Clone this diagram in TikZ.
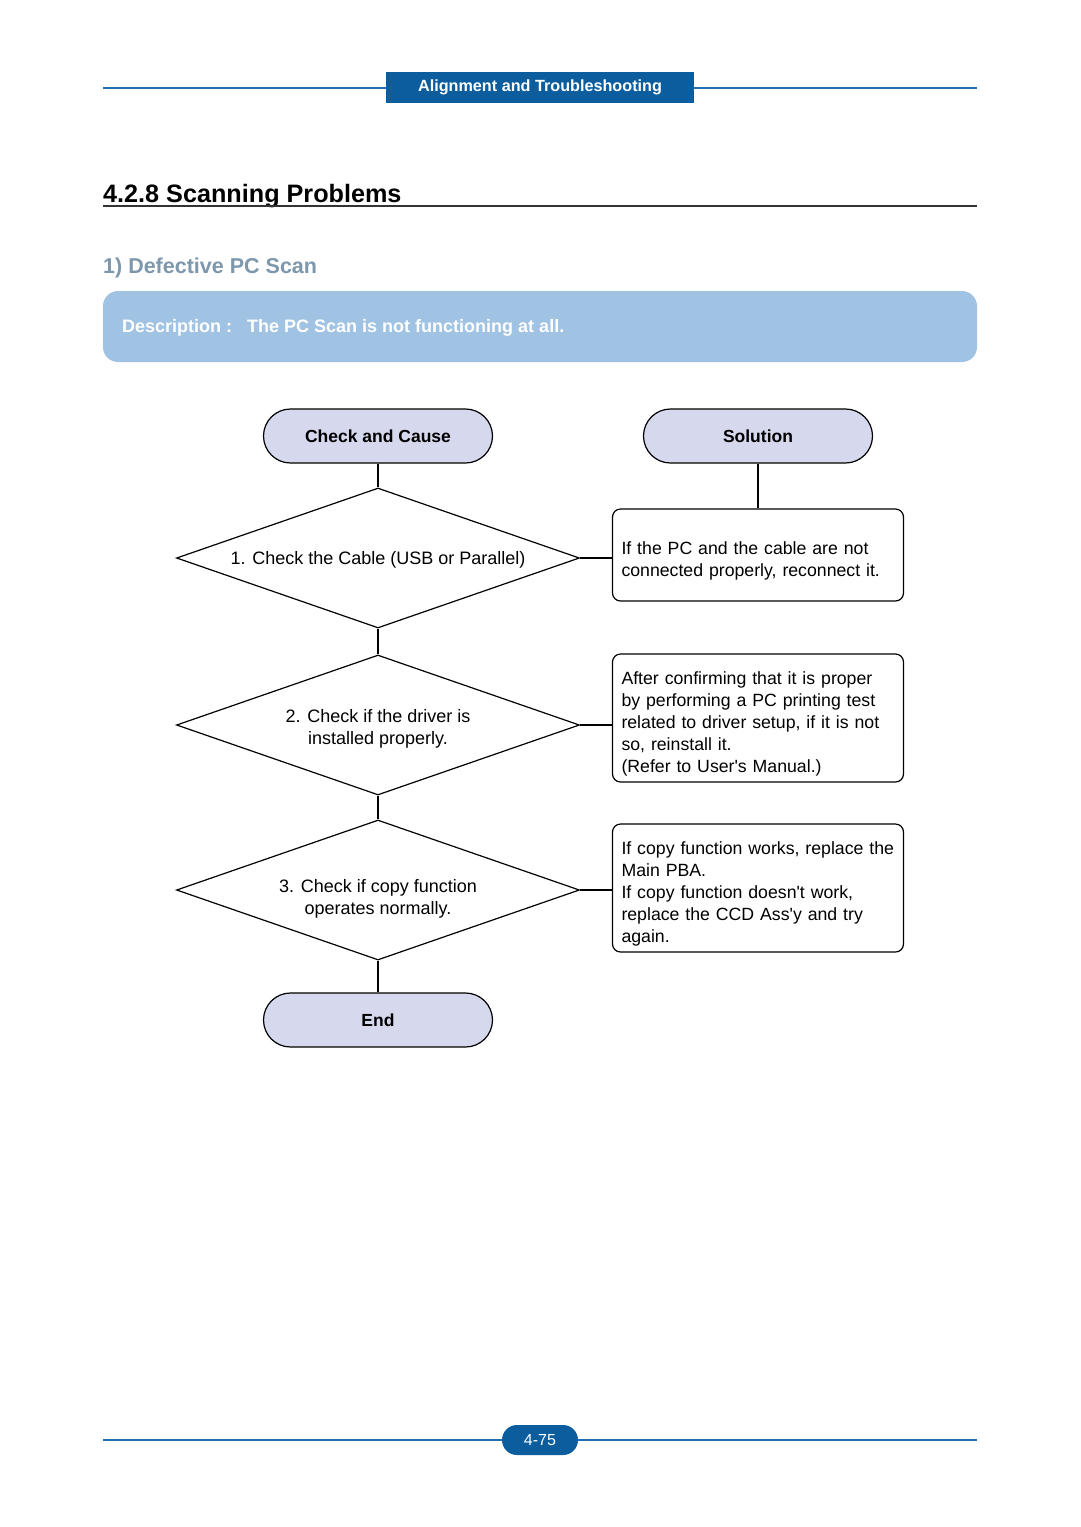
\documentclass[tikz,border=0pt]{standalone}
\usepackage{fontspec}
\setmainfont{Liberation Sans}
\usetikzlibrary{shapes,positioning}

\definecolor{hdrblue}{HTML}{0B5D9E}
\definecolor{ruleblue}{HTML}{1F6FB2}
\definecolor{descblue}{HTML}{A0C3E3}
\definecolor{subgrey}{HTML}{7D98AD}
\definecolor{capfill}{HTML}{D6D8EE}

\newcommand{\fsz}[2]{\fontsize{#1}{#2}\selectfont}
\newcommand{\apos}{\textquotesingle}

\begin{document}
\begin{tikzpicture}[x=1pt,y=-1pt,
  every node/.style={font=\fsz{18}{22}},
  cap node/.style={draw,line width=1.2pt,fill=capfill,rounded corners=27pt,minimum width=229pt,minimum height=54pt,font=\bfseries\fsz{17.5}{22}},
  check node/.style={draw,diamond,line width=1.2pt,aspect=2.88,minimum width=403pt,minimum height=140pt,inner sep=0pt,align=center},
  fix node/.style={draw,line width=1.2pt,rounded corners=8pt,minimum width=291pt,text width=273pt,inner xsep=0pt,align=left,font=\fsz{17.7}{22},execute at begin node=\rule{0pt}{25pt}},
  link/.style={line width=1.2pt}]

  \useasboundingbox (0,0) rectangle (1080,1527);
  \fill[white] (0,0) rectangle (1080,1527);

  % page header
  \draw[ruleblue,line width=2pt] (103,88) -- (977,88);
  \node[fill=hdrblue,minimum width=308pt,minimum height=31pt,inner sep=0pt,text=white,font=\bfseries\fsz{16.2}{18}] (head) at (540,87.5) {Alignment and Troubleshooting};

  \node[anchor=base west,inner sep=0pt,font=\bfseries\fsz{25.2}{30}] (title) at (103,202) {4.2.8 Scanning Problems};
  \draw[black!80,line width=1.5pt] (103,206) -- (977,206);

  \node[anchor=base west,inner sep=0pt,text=subgrey,font=\bfseries\fsz{21.5}{26}] (sub) at (103,273) {1) Defective PC Scan};
  \fill[descblue,rounded corners=15pt] (103,291) rectangle (977,362);
  \node[anchor=base west,inner sep=0pt,text=white,font=\bfseries\fsz{18}{20}] (desc) at (122,332) {Description :\ \ \ The PC Scan is not functioning at all.};

  % flow chart
  \node[cap node] (cause) at (378,436) {Check and Cause};
  \node[cap node] (sol) at (758,436) {Solution};
  \node[check node,text height=17pt] (c1) at (378,558) {1. Check the Cable (USB or Parallel)};
  \node[check node,text height=43pt] (c2) at (378,725) {2. Check if the driver is\\installed properly.};
  \node[check node,text height=52pt] (c3) at (378,890) {3. Check if copy function\\operates normally.};
  \node[cap node] (end) at (378,1020) {End};

  \node[fix node,minimum height=92pt] (f1) at (758,555) {If the PC and the cable are not\\connected properly, reconnect it.};
  \node[fix node,minimum height=128pt] (f2) at (758,718) {After confirming that it is proper\\by performing a PC printing test\\related to driver setup, if it is not\\so, reinstall it.\\(Refer to User\apos s Manual.)};
  \node[fix node,minimum height=128pt] (f3) at (758,888) {If copy function works, replace the\\Main PBA.\\If copy function doesn\apos t work,\\replace the CCD Ass\apos y and try\\again.};

  \draw[link] (cause) -- (c1);
  \draw[link] (c1) -- (c2);
  \draw[link] (c2) -- (c3);
  \draw[link] (c3) -- (end);
  \draw[link] (sol) -- (f1);
  \draw[link] (c1.east) -- (c1.east -| f1.west);
  \draw[link] (c2.east) -- (c2.east -| f2.west);
  \draw[link] (c3.east) -- (c3.east -| f3.west);

  % page footer
  \draw[ruleblue,line width=2pt] (103,1440) -- (977,1440);
  \node[fill=hdrblue,rounded corners=15pt,minimum width=76pt,minimum height=30pt,inner sep=0pt,text=white,font=\fsz{16}{18}] (page) at (540,1440) {4-75};
\end{tikzpicture}
\end{document}
